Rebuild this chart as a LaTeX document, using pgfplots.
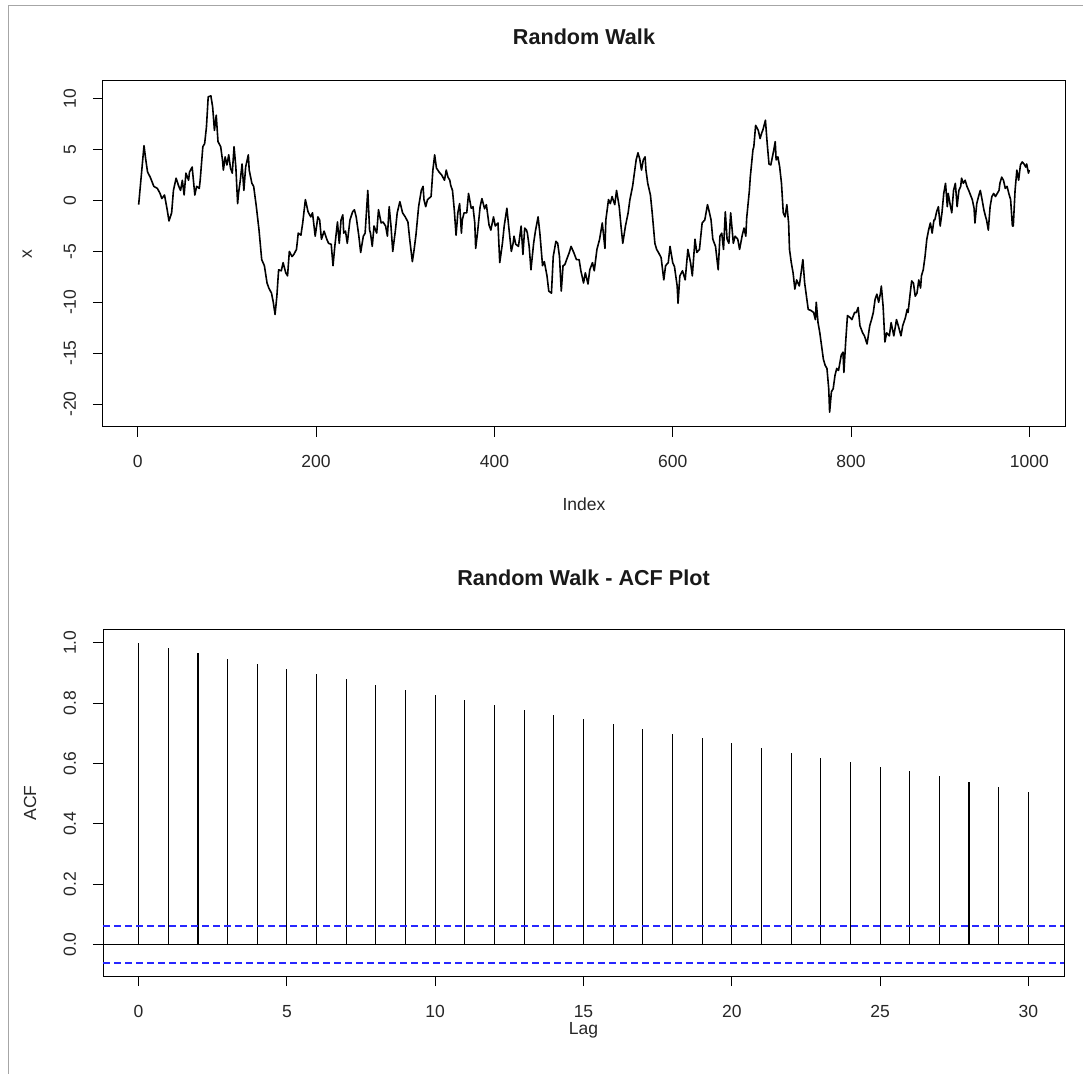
\documentclass[border=0pt]{standalone}
\usepackage{fontspec}
\setmainfont{Liberation Sans}
\usepackage{pgfplots}
\usepackage{pgfplotstable}
\pgfplotsset{compat=1.18}
\definecolor{rblue}{RGB}{40,40,255}

% random walk, sampled along the index
\pgfplotstableread{
idx val
1 -0.4
7 5.4
9 4.0
11 2.8
14 2.3
18 1.4
22 1.2
25 0.7
27 0.2
30 0.55
33 -0.9
35 -2.0
38 -1.2
40 1.0
43 2.2
46 1.4
48 1.0
50 2.0
52 0.55
54 2.7
57 2.0
58 2.8
61 3.3
64 0.55
66 1.4
69 1.2
70 2.0
73 5.3
75 5.6
77 7.2
79 10.2
82 10.3
84 9.2
86 6.9
88 8.4
90 5.8
93 5.3
95 4.0
96 3.0
98 4.3
100 3.5
102 4.5
104 3.2
106 2.7
108 5.3
110 3.3
112 -0.3
113 0.7
115 2.0
117 3.6
119 1.0
121 3.3
124 4.5
125 3.0
128 1.7
130 1.4
133 -0.6
136 -2.9
139 -5.8
142 -6.4
145 -8.1
147 -8.6
150 -9.1
152 -10.0
154 -11.2
156 -9.4
158 -6.8
161 -6.9
163 -6.1
166 -7.1
168 -7.4
170 -5.0
173 -5.5
175 -5.3
178 -4.8
180 -3.2
183 -3.4
185 -2.2
188 0.1
191 -1.1
194 -1.6
196 -1.2
199 -3.5
202 -1.6
204 -1.9
206 -3.8
209 -3.0
212 -3.8
214 -4.2
217 -4.3
219 -6.4
221 -4.5
224 -2.1
226 -4.2
228 -1.9
230 -1.4
231 -3.2
233 -3.0
235 -4.2
238 -1.9
241 -1.1
243 -0.9
245 -1.6
248 -3.5
250 -5.1
253 -3.5
255 -3.2
258 1.0
260 -2.9
261 -3.2
263 -4.5
265 -2.5
268 -3.2
270 -0.9
273 -2.2
275 -2.1
278 -2.5
280 -3.5
282 -0.6
284 -2.5
286 -5.0
289 -2.9
291 -1.2
294 -0.1
297 -1.2
300 -1.6
303 -2.1
305 -3.8
308 -6.0
310 -4.8
312 -3.4
315 -0.6
318 1.0
320 1.4
321 0.1
323 -0.6
325 0.1
329 0.4
331 3.0
333 4.5
335 3.2
338 2.8
341 2.5
344 2.0
346 3.0
348 2.3
350 2.0
351 1.5
353 1.0
355 -0.9
357 -3.4
359 -1.2
361 -0.3
363 -3.2
364 -1.9
366 -1.2
369 -1.2
371 0.7
374 -0.75
376 -0.6
378 -2.2
379 -4.7
381 -3.2
384 -0.6
386 0.2
389 -0.8
391 -0.4
394 -2.4
396 -2.9
399 -1.6
401 -2.5
404 -2.2
406 -6.1
409 -4.2
411 -2.5
414 -0.75
416 -2.5
419 -5.0
421 -4.2
422 -3.5
424 -4.3
427 -4.5
430 -2.5
432 -5.3
434 -2.7
436 -2.9
437 -3.2
439 -4.5
441 -6.8
444 -4.2
446 -3.0
449 -1.6
451 -3.2
454 -6.4
456 -6.0
459 -7.4
461 -8.9
464 -9.1
466 -5.5
469 -4.0
471 -4.2
473 -5.5
475 -8.9
477 -6.4
479 -6.3
481 -5.8
484 -5.1
486 -4.5
489 -5.1
492 -5.8
495 -5.8
497 -6.9
500 -8.1
502 -7.1
505 -8.2
507 -6.8
510 -6.1
512 -6.9
515 -4.8
518 -3.8
521 -2.2
524 -4.7
525 -1.9
528 0.1
530 -0.3
532 0.4
535 -0.4
537 1.0
540 -0.6
542 -2.5
544 -4.2
547 -2.5
550 -1.2
552 0.1
555 1.4
557 2.7
559 4.0
561 4.7
563 4.1
565 3.0
567 4.0
569 4.3
570 3.0
572 1.7
575 0.55
577 -1.2
580 -4.2
582 -4.8
584 -5.1
587 -5.6
590 -7.8
592 -6.4
595 -6.1
597 -4.5
600 -6.1
602 -6.5
605 -8.4
606 -10.1
608 -7.4
611 -6.9
614 -7.8
617 -4.8
620 -6.1
622 -7.4
625 -3.8
627 -5.1
630 -4.8
633 -2.2
636 -1.9
639 -0.4
641 -1.1
643 -1.9
645 -3.8
648 -4.5
651 -6.8
653 -3.5
655 -3.2
657 -4.8
659 -1.1
661 -3.8
663 -4.2
665 -1.2
668 -4.2
670 -3.5
673 -3.8
675 -4.8
678 -3.4
680 -2.7
682 -3.5
683 -1.7
686 1.0
687 2.3
690 5.0
691 5.3
693 7.4
696 6.9
698 6.1
700 6.7
701 6.9
704 7.9
706 5.6
708 3.6
710 3.5
713 4.8
715 5.8
716 4.0
718 4.3
720 3.3
722 1.7
724 -1.2
726 -1.6
728 -0.4
730 -2.2
731 -4.8
733 -6.1
735 -7.1
737 -8.7
739 -7.8
742 -8.4
744 -7.1
746 -5.8
748 -8.1
750 -9.4
752 -10.7
755 -10.8
758 -11.0
760 -11.7
761 -10.0
763 -12.0
765 -13.0
767 -14.3
769 -15.6
771 -16.2
773 -16.5
775 -18.5
776 -20.8
778 -18.8
780 -18.5
782 -17.2
784 -16.5
786 -16.7
789 -15.2
791 -14.9
792 -16.9
794 -13.9
796 -11.3
799 -11.5
801 -11.7
804 -11.0
806 -11.0
808 -10.5
810 -12.3
813 -13.0
815 -13.3
818 -14.1
821 -12.3
823 -11.7
825 -11.0
827 -9.7
829 -9.2
831 -10.0
833 -9.1
834 -8.4
836 -10.4
838 -13.9
840 -13.0
843 -13.3
845 -12.0
848 -13.3
851 -11.7
853 -12.3
856 -13.3
858 -12.3
861 -11.5
863 -10.7
864 -11.0
866 -9.4
868 -7.9
870 -8.1
872 -9.4
874 -9.1
876 -7.8
878 -8.6
879 -7.4
881 -6.8
883 -5.5
885 -3.8
887 -2.9
889 -2.2
891 -3.2
893 -1.9
894 -1.9
896 -1.1
898 -0.6
900 -2.5
902 -1.2
904 0.7
906 1.7
908 -0.6
909 0.7
911 -0.3
913 -1.2
915 1.0
917 1.7
919 -0.6
921 1.0
923 1.4
924 2.2
926 1.7
928 2.0
930 1.4
932 1.0
934 0.55
936 0.1
938 -0.75
939 -2.2
941 -0.3
943 0.4
945 1.0
947 0.1
949 -0.9
951 -1.6
952 -1.9
954 -2.9
956 -0.6
958 0.4
960 0.7
962 0.4
964 0.7
966 1.0
967 1.7
969 2.3
971 2.0
973 1.2
975 1.4
977 0.7
979 0.1
981 -2.5
982 -2.5
984 1.0
986 3.0
988 2.0
990 3.5
992 3.8
994 3.6
996 3.3
997 3.6
999 2.7
1000 3.0
}\walk

% sample autocorrelation of the walk, lags 0..30
\pgfplotstableread{
lag acf
0 1.000
1 0.984
2 0.965
3 0.946
4 0.929
5 0.913
6 0.897
7 0.879
8 0.861
9 0.845
10 0.828
11 0.811
12 0.794
13 0.778
14 0.762
15 0.747
16 0.731
17 0.715
18 0.699
19 0.683
20 0.667
21 0.651
22 0.635
23 0.619
24 0.605
25 0.589
26 0.574
27 0.558
28 0.539
29 0.523
30 0.506
}\acf

\pgfplotsset{
  rbase/.style={
    scale only axis,
    axis line style={black, line width=0.5pt},
    tick align=outside,
    major tick length=5pt,
    xtick pos=bottom, ytick pos=left,
    tick style={black, line width=0.5pt},
    every tick label/.append style={font=\fontsize{8.75}{10}\selectfont, text=black!85},
    % rotated labels: a yshift in the rotated frame moves them to the left
    yticklabel style={rotate=90, anchor=base, yshift=8.5pt},
    xticklabel style={anchor=base, yshift=-15.5pt},
    title style={font=\bfseries\fontsize{10.8}{12}\selectfont, at={(axis description cs:0.5,1)}, anchor=base, text=black!90},
    label style={font=\fontsize{8.75}{10}\selectfont, text=black!85},
  }
}

\begin{document}
\begin{tikzpicture}
\useasboundingbox (0,0) rectangle (541.5pt,-537pt);
% page frame
\draw[black!35, line width=0.5pt] (4.2pt,-537pt) -- (4.2pt,-2.6pt) -- (541.5pt,-2.6pt);

\begin{axis}[rbase,
  at={(51.5pt,-213.5pt)}, anchor=south west,
  width=481pt, height=173pt,
  xmin=-39, xmax=1040, ymin=-22.26, ymax=11.76,
  xtick={0,200,400,600,800,1000},
  xticklabels={0,200,400,600,800,1000},
  ytick={-20,-15,-10,-5,0,5,10},
  yticklabels={-20,-15,-10,-5,0,5,10},
  title={Random Walk}, title style={yshift=12pt},
  xlabel={Index}, xlabel style={at={(axis description cs:0.5,0)}, anchor=base, yshift=-42pt},
  ylabel={x}, ylabel style={at={(axis description cs:0,0.5)}, anchor=base, yshift=35.5pt},
]
\addplot[black, line width=0.8pt, line join=round] table[x=idx, y=val] {\walk};
\end{axis}

\begin{axis}[rbase,
  at={(51.5pt,-488pt)}, anchor=south west,
  width=480.5pt, height=173pt,
  xmin=-1.2, xmax=31.2, ymin=-0.1045, ymax=1.0425,
  xtick={0,5,10,15,20,25,30},
  xticklabels={0,5,10,15,20,25,30},
  ytick={0,0.2,0.4,0.6,0.8,1.0},
  yticklabels={0.0,0.2,0.4,0.6,0.8,1.0},
  title={Random Walk - ACF Plot}, title style={yshift=16pt},
  xlabel={Lag}, xlabel style={at={(axis description cs:0.5,0)}, anchor=base, yshift=-29pt},
  ylabel={ACF}, ylabel style={at={(axis description cs:0,0.5)}, anchor=base, yshift=33.5pt},
]
\addplot[black, line width=0.6pt, ycomb] table[x=lag, y=acf] {\acf};
\addplot[black, line width=0.5pt] coordinates {(-1.2,0) (31.2,0)};
% 95% bounds, +-1.96/sqrt(1000)
\addplot[draw=rblue, line width=0.9pt, dash pattern=on 3.5pt off 2pt] coordinates {(-1.2,0.062) (31.2,0.062)};
\addplot[draw=rblue, line width=0.9pt, dash pattern=on 3.5pt off 2pt] coordinates {(-1.2,-0.062) (31.2,-0.062)};
\end{axis}
\end{tikzpicture}
\end{document}
